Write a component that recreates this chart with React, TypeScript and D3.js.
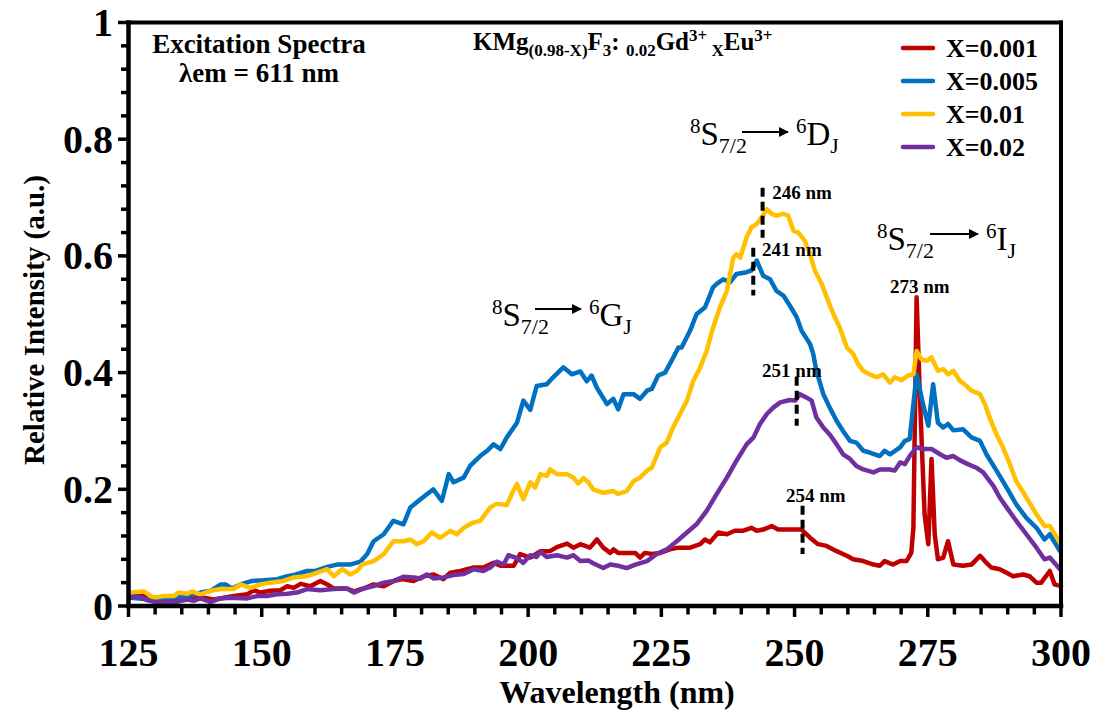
import * as d3 from "d3";

// [wavelength (nm), relative intensity]
const seriesRed: [number, number][] = [
  [125.4, 0.017], [127.9, 0.02], [129.7, 0.014], [131.6, 0.011], [134.1, 0.011], [136.0, 0.011], [137.3, 0.013],
  [139.1, 0.014], [141.0, 0.011], [142.9, 0.014], [144.8, 0.017], [147.3, 0.02], [148.5, 0.027], [149.8, 0.023],
  [151.6, 0.026], [153.5, 0.027], [154.8, 0.034], [156.0, 0.031], [157.3, 0.038], [159.1, 0.034], [161.0, 0.043],
  [162.3, 0.037], [163.5, 0.03], [166.0, 0.03], [167.3, 0.025], [169.1, 0.03], [171.0, 0.037], [172.9, 0.034],
  [174.8, 0.043], [176.6, 0.046], [178.5, 0.043], [180.4, 0.051], [182.3, 0.054], [184.1, 0.046], [185.4, 0.057],
  [187.3, 0.06], [189.8, 0.066], [191.6, 0.066], [193.5, 0.074], [194.8, 0.069], [197.3, 0.069], [198.5, 0.089],
  [200.4, 0.083], [202.3, 0.094], [204.1, 0.094], [205.4, 0.101], [207.3, 0.107], [208.5, 0.1], [209.8, 0.106],
  [211.6, 0.1], [212.9, 0.114], [214.1, 0.1], [215.4, 0.091], [216.0, 0.097], [216.9, 0.091], [218.5, 0.091],
  [220.1, 0.091], [221.0, 0.083], [221.9, 0.091], [223.2, 0.089], [224.8, 0.091], [226.6, 0.097], [228.2, 0.1],
  [230.4, 0.1], [232.3, 0.106], [233.2, 0.114], [234.1, 0.109], [235.7, 0.126], [237.3, 0.123], [238.8, 0.129],
  [240.4, 0.129], [241.9, 0.134], [242.9, 0.129], [244.1, 0.131], [245.7, 0.137], [246.9, 0.131], [248.5, 0.131],
  [251.3, 0.131], [252.9, 0.117], [254.4, 0.106], [256.0, 0.103], [257.9, 0.094], [259.8, 0.086], [261.0, 0.08],
  [262.9, 0.077], [264.8, 0.071], [266.0, 0.069], [266.9, 0.077], [268.5, 0.071], [269.8, 0.077], [271.0, 0.077],
  [271.9, 0.091], [272.3, 0.134], [272.6, 0.334], [272.9, 0.529], [273.5, 0.363], [274.4, 0.157], [275.1, 0.106],
  [275.7, 0.252], [276.3, 0.123], [276.9, 0.08], [277.9, 0.083], [278.8, 0.111], [279.8, 0.071], [281.6, 0.069],
  [283.2, 0.071], [284.8, 0.086], [285.7, 0.077], [286.9, 0.066], [288.5, 0.063], [289.8, 0.057], [291.0, 0.051],
  [292.9, 0.054], [294.1, 0.051], [295.4, 0.04], [296.3, 0.04], [297.9, 0.06], [298.8, 0.037], [300.0, 0.034],
];

const seriesBlue: [number, number][] = [
  [125.4, 0.014], [129.1, 0.011], [132.9, 0.014], [136.0, 0.017], [138.5, 0.023], [140.4, 0.026], [142.3, 0.037],
  [143.2, 0.037], [144.4, 0.03], [146.0, 0.037], [148.2, 0.043], [150.4, 0.044], [152.9, 0.046], [154.8, 0.051],
  [156.0, 0.053], [158.5, 0.06], [160.1, 0.06], [162.3, 0.067], [164.1, 0.071], [166.6, 0.071], [168.5, 0.076],
  [169.8, 0.089], [171.0, 0.111], [172.9, 0.123], [174.7, 0.146], [176.6, 0.14], [177.9, 0.169], [179.8, 0.183],
  [182.2, 0.2], [183.8, 0.18], [185.1, 0.226], [186.0, 0.212], [187.9, 0.22], [189.1, 0.24], [191.0, 0.257],
  [192.3, 0.266], [193.5, 0.277], [194.8, 0.269], [196.0, 0.289], [197.9, 0.314], [199.1, 0.352], [200.4, 0.336],
  [201.6, 0.377], [203.5, 0.38], [204.7, 0.392], [206.6, 0.409], [208.2, 0.397], [209.8, 0.402], [211.0, 0.385],
  [211.9, 0.395], [212.9, 0.374], [214.8, 0.346], [216.0, 0.355], [216.9, 0.337], [217.9, 0.363], [219.8, 0.363],
  [221.0, 0.355], [222.3, 0.369], [223.2, 0.372], [224.4, 0.395], [225.7, 0.4], [226.9, 0.42], [228.2, 0.443],
  [228.8, 0.443], [230.4, 0.472], [231.6, 0.5], [233.2, 0.512], [234.7, 0.546], [235.4, 0.552], [236.6, 0.56],
  [237.9, 0.555], [239.1, 0.569], [241.0, 0.572], [241.9, 0.575], [242.9, 0.592], [244.1, 0.566], [245.4, 0.56],
  [246.6, 0.54], [247.9, 0.532], [249.1, 0.515], [250.4, 0.495], [251.3, 0.472], [252.9, 0.449], [253.5, 0.432],
  [254.1, 0.403], [255.4, 0.363], [256.6, 0.34], [257.9, 0.317], [259.1, 0.3], [260.4, 0.283], [261.6, 0.28],
  [262.9, 0.266], [264.1, 0.263], [266.0, 0.257], [266.9, 0.266], [267.9, 0.26], [269.8, 0.272], [270.7, 0.283],
  [271.6, 0.286], [272.9, 0.397], [274.1, 0.346], [275.1, 0.309], [276.0, 0.38], [276.9, 0.314], [277.9, 0.306],
  [278.8, 0.312], [279.8, 0.301], [281.6, 0.303], [283.2, 0.289], [284.8, 0.283], [286.0, 0.26], [287.9, 0.232],
  [289.8, 0.203], [291.6, 0.174], [293.5, 0.151], [295.4, 0.134], [296.9, 0.114], [297.9, 0.123], [299.8, 0.094],
];

const seriesYellow: [number, number][] = [
  [125.4, 0.023], [127.9, 0.025], [129.7, 0.014], [131.6, 0.017], [133.5, 0.017], [134.4, 0.023], [136.0, 0.021],
  [136.9, 0.025], [138.5, 0.02], [140.4, 0.026], [142.3, 0.029], [144.7, 0.029], [146.0, 0.037], [147.9, 0.031],
  [149.8, 0.037], [151.6, 0.04], [154.1, 0.043], [156.0, 0.049], [158.5, 0.051], [160.4, 0.057], [162.3, 0.063],
  [163.5, 0.051], [165.1, 0.063], [166.6, 0.054], [167.9, 0.06], [168.8, 0.071], [171.0, 0.077], [172.9, 0.089],
  [174.7, 0.111], [176.6, 0.111], [177.9, 0.114], [179.1, 0.106], [180.4, 0.111], [181.9, 0.126], [183.5, 0.117],
  [185.4, 0.129], [186.6, 0.123], [187.9, 0.134], [189.7, 0.143], [191.0, 0.146], [192.9, 0.169], [194.1, 0.175],
  [196.0, 0.173], [197.2, 0.197], [197.9, 0.209], [199.1, 0.183], [200.4, 0.212], [201.3, 0.203], [202.3, 0.226],
  [203.5, 0.223], [204.1, 0.234], [205.4, 0.226], [207.3, 0.226], [208.5, 0.22], [209.4, 0.21], [210.4, 0.219],
  [211.3, 0.212], [212.2, 0.2], [214.1, 0.194], [216.0, 0.197], [216.9, 0.192], [218.5, 0.197], [219.8, 0.214],
  [221.0, 0.22], [222.3, 0.232], [223.2, 0.237], [224.8, 0.272], [226.0, 0.28], [227.2, 0.306], [228.5, 0.329],
  [229.8, 0.352], [231.0, 0.386], [232.3, 0.409], [233.5, 0.437], [234.7, 0.477], [236.0, 0.512], [237.3, 0.54],
  [238.5, 0.597], [239.1, 0.603], [239.8, 0.597], [241.0, 0.632], [241.9, 0.649], [242.9, 0.655], [243.8, 0.666],
  [244.8, 0.68], [245.7, 0.672], [246.6, 0.669], [247.9, 0.672], [248.8, 0.669], [249.8, 0.643], [250.7, 0.64],
  [251.9, 0.626], [252.9, 0.603], [253.8, 0.575], [255.1, 0.552], [256.3, 0.523], [257.3, 0.5], [258.5, 0.477],
  [259.8, 0.443], [261.0, 0.432], [261.9, 0.415], [262.9, 0.403], [264.1, 0.397], [265.4, 0.392], [266.6, 0.397],
  [267.9, 0.383], [268.8, 0.392], [270.1, 0.387], [271.3, 0.395], [272.3, 0.397], [272.9, 0.437], [273.8, 0.423],
  [274.8, 0.42], [275.7, 0.426], [276.9, 0.403], [277.9, 0.406], [278.8, 0.397], [279.8, 0.403], [281.0, 0.386],
  [282.3, 0.377], [283.2, 0.369], [284.8, 0.363], [285.7, 0.346], [286.6, 0.323], [287.9, 0.294], [289.1, 0.272],
  [290.4, 0.243], [291.6, 0.214], [293.5, 0.186], [295.4, 0.157], [296.9, 0.137], [297.9, 0.137], [299.8, 0.109],
];

const seriesPurple: [number, number][] = [
  [125.4, 0.014], [126.6, 0.017], [128.5, 0.01], [130.4, 0.006], [132.3, 0.007], [134.1, 0.007], [136.0, 0.011],
  [137.3, 0.009], [138.5, 0.013], [140.4, 0.007], [142.3, 0.013], [144.1, 0.014], [147.3, 0.013], [149.1, 0.017],
  [151.0, 0.017], [152.9, 0.02], [154.8, 0.021], [156.6, 0.023], [158.5, 0.029], [161.0, 0.027], [163.5, 0.029],
  [166.0, 0.03], [167.3, 0.023], [169.1, 0.03], [171.0, 0.034], [172.9, 0.04], [174.8, 0.043], [176.6, 0.05],
  [178.5, 0.049], [179.8, 0.047], [181.0, 0.054], [182.3, 0.047], [184.1, 0.049], [186.0, 0.053], [187.9, 0.055],
  [189.8, 0.063], [191.6, 0.06], [192.9, 0.066], [194.1, 0.076], [195.4, 0.071], [196.3, 0.087], [197.9, 0.082],
  [199.1, 0.074], [200.4, 0.087], [201.6, 0.084], [202.3, 0.093], [203.5, 0.084], [205.4, 0.087], [207.3, 0.083],
  [208.5, 0.087], [209.8, 0.077], [211.3, 0.078], [212.3, 0.073], [214.1, 0.065], [215.4, 0.071], [216.9, 0.069],
  [218.5, 0.065], [220.1, 0.071], [222.3, 0.077], [224.1, 0.089], [226.0, 0.097], [227.9, 0.111], [229.8, 0.126],
  [231.6, 0.14], [233.5, 0.163], [235.4, 0.192], [237.3, 0.22], [239.1, 0.249], [241.0, 0.277], [242.3, 0.289],
  [243.5, 0.312], [244.8, 0.329], [246.0, 0.34], [247.3, 0.349], [249.1, 0.353], [250.1, 0.352], [251.0, 0.363],
  [252.3, 0.357], [253.2, 0.352], [254.1, 0.323], [255.4, 0.306], [256.6, 0.294], [257.9, 0.277], [259.1, 0.26],
  [260.4, 0.252], [261.6, 0.24], [262.9, 0.234], [264.8, 0.229], [266.0, 0.234], [267.9, 0.234], [268.8, 0.232],
  [269.8, 0.246], [270.7, 0.243], [271.6, 0.257], [272.9, 0.272], [274.1, 0.269], [275.7, 0.269], [277.3, 0.26],
  [278.5, 0.254], [279.8, 0.257], [281.0, 0.25], [282.3, 0.244], [284.1, 0.237], [285.4, 0.229], [287.3, 0.206],
  [288.5, 0.186], [289.8, 0.169], [291.6, 0.146], [293.5, 0.123], [295.4, 0.1], [296.9, 0.08], [297.9, 0.083],
  [299.8, 0.063],
];

const legendLabels = ["X=0.001", "X=0.005", "X=0.01", "X=0.02"];
const xTicks = [125, 150, 175, 200, 225, 250, 275, 300];
const yTicks = [0, 0.2, 0.4, 0.6, 0.8, 1];

// peak markers: [label, wavelength of dashed line, top, bottom]
const peaks: [string, number, number, number][] = [
  ["246 nm", 244.0, 0.717, 0.631],
  ["241 nm", 242.25, 0.614, 0.532],
  ["251 nm", 250.4, 0.393, 0.309],
  ["254 nm", 251.5, 0.172, 0.089],
];

const W = 1094;
const H = 711;
const FONT = "'Liberation Serif', 'Times New Roman', serif";
const colors = ["#C00000", "#0070C0", "#FFC000", "#7030A0"];

const x = d3.scaleLinear().domain([125, 300]).range([128.5, 1061]);
const y = d3.scaleLinear().domain([0, 1]).range([606, 22.5]);

const line = d3
  .line<[number, number]>()
  .x((d) => x(d[0]))
  .y((d) => y(d[1]));

const Transition = ({ px, py, arrow, letter }) => {
  const sub = { fontSize: 22 };
  return (
    <g fontFamily={FONT} fill="#000">
      <text x={px} y={py} fontSize={33}>
        <tspan fontSize={21} dy={-12}>8</tspan>
        <tspan dy={12}>S</tspan>
        <tspan style={sub} dy={8}>7/2</tspan>
      </text>
      <line
        x1={arrow[0]}
        x2={arrow[1] - 2}
        y1={arrow[2]}
        y2={arrow[2]}
        stroke="#000"
        strokeWidth={2}
        markerEnd="url(#arrowHead)"
      />
      <text x={arrow[1] + 6} y={py} fontSize={33}>
        <tspan fontSize={21} dy={-12}>6</tspan>
        <tspan dy={12}>{letter}</tspan>
        <tspan style={sub} dy={8}>J</tspan>
      </text>
    </g>
  );
};

export default function App() {
  const series = [seriesRed, seriesBlue, seriesYellow, seriesPurple];
  const minorX = d3.range(125, 301, 5);
  const minorY = d3.range(0, 1.001, 0.04);

  return (
    <svg
      width={W}
      height={H}
      style={{ position: "absolute", left: 0, top: 0, background: "#fff" }}
    >
      <defs>
        <marker
          id="arrowHead"
          viewBox="0 0 10 10"
          refX="9"
          refY="5"
          markerWidth="5"
          markerHeight="5"
          orient="auto"
        >
          <path d="M0,0 L10,5 L0,10 z" fill="#000" />
        </marker>
      </defs>
      <rect width={W} height={H} fill="#fff" />

      {/* data lines */}
      {series.map((s, i) => (
        <path
          key={i}
          d={line(s) ?? ""}
          fill="none"
          stroke={colors[i]}
          strokeWidth={4.5}
          strokeLinejoin="round"
          strokeLinecap="round"
        />
      ))}

      {/* frame */}
      <g stroke="#000" strokeLinecap="square">
        <line x1={x(125)} x2={x(300)} y1={y(1)} y2={y(1)} strokeWidth={4} />
        <line x1={x(300)} x2={x(300)} y1={y(1)} y2={y(0)} strokeWidth={4} />
        <line x1={x(125)} x2={x(125)} y1={y(1)} y2={y(0)} strokeWidth={4.5} />
        <line x1={x(125)} x2={x(300)} y1={y(0)} y2={y(0)} strokeWidth={4.5} />
      </g>

      {/* ticks */}
      <g stroke="#000" strokeWidth={3.5}>
        {minorX.map((t) => (
          <line
            key={t}
            x1={x(t)}
            x2={x(t)}
            y1={y(0)}
            y2={y(0) + (t % 25 === 0 ? 11 : 8.5)}
          />
        ))}
        {minorY.map((t) => {
          const major = Math.abs(t * 5 - Math.round(t * 5)) < 1e-6;
          return (
            <line
              key={t}
              x1={x(125)}
              x2={x(125) - (major ? 10.5 : 7.5)}
              y1={y(t)}
              y2={y(t)}
            />
          );
        })}
      </g>

      <g fontFamily={FONT} fontWeight="bold" fontSize={40} fill="#000">
        {xTicks.map((t) => (
          <text key={t} x={x(t)} y={666} textAnchor="middle">
            {t}
          </text>
        ))}
        {yTicks.map((t) => (
          <text key={t} x={113} y={y(t) + 13.5} textAnchor="end">
            {t === 0 || t === 1 ? String(t) : t.toFixed(1)}
          </text>
        ))}
      </g>

      {/* axis titles */}
      <text
        x={617}
        y={703}
        textAnchor="middle"
        fontFamily={FONT}
        fontWeight="bold"
        fontSize={32}
      >
        Wavelength (nm)
      </text>
      <text
        transform="translate(44,320) rotate(-90)"
        textAnchor="middle"
        fontFamily={FONT}
        fontWeight="bold"
        fontSize={29}
      >
        Relative Intensity (a.u.)
      </text>

      {/* top-left note */}
      <g fontFamily={FONT} fontWeight="bold" fontSize={27} textAnchor="middle">
        <text x={259} y={53}>Excitation Spectra</text>
        <text x={259} y={82}>λem = 611 nm</text>
      </g>

      {/* formula */}
      <text x={473} y={50} fontFamily={FONT} fontWeight="bold" fontSize={25}>
        <tspan>KMg</tspan>
        <tspan fontSize={17} dy={6}>(0.98-X)</tspan>
        <tspan dy={-6}>F</tspan>
        <tspan fontSize={17} dy={6}>3</tspan>
        <tspan dy={-6}>{":\u00A0"}</tspan>
        <tspan fontSize={17} dy={6}>0.02</tspan>
        <tspan dy={-6}>Gd</tspan>
        <tspan fontSize={17} dy={-9}>3+</tspan>
        <tspan fontSize={17} dy={15}>{"\u00A0X"}</tspan>
        <tspan dy={-6}>Eu</tspan>
        <tspan fontSize={17} dy={-9}>3+</tspan>
      </text>

      {/* legend */}
      {legendLabels.map((l, i) => {
        const ly = 48 + i * 33;
        return (
          <g key={l}>
            <line
              x1={903}
              x2={933}
              y1={ly}
              y2={ly}
              stroke={colors[i]}
              strokeWidth={4.5}
              strokeLinecap="round"
            />
            <text
              x={946}
              y={ly + 8.5}
              fontFamily={FONT}
              fontWeight="bold"
              fontSize={26}
            >
              {l}
            </text>
          </g>
        );
      })}

      {/* transitions */}
      <Transition px={690} py={145} arrow={[742, 790, 132]} letter="D" />
      <Transition px={877} py={250} arrow={[930, 980, 234]} letter="I" />
      <Transition px={492} py={326} arrow={[535, 583, 309]} letter="G" />

      {/* peak labels */}
      <g stroke="#000" strokeWidth={4} strokeDasharray="9,5">
        {peaks.map((p) => (
          <line key={p[0]} x1={x(p[1])} x2={x(p[1])} y1={y(p[2])} y2={y(p[3])} />
        ))}
      </g>
      <g fontFamily={FONT} fontWeight="bold" fontSize={19}>
        <text x={x(245.8)} y={y(0.698)}>246 nm</text>
        <text x={x(243.9)} y={y(0.6)}>241 nm</text>
        <text x={x(267.9)} y={y(0.537)}>273 nm</text>
        <text x={x(243.9)} y={y(0.393)}>251 nm</text>
        <text x={x(248.4)} y={y(0.178)}>254 nm</text>
      </g>
    </svg>
  );
}
